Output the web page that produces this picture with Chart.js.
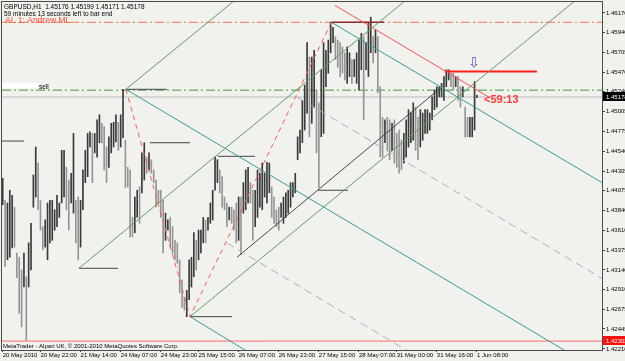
<!DOCTYPE html>
<html>
<head>
<meta charset="utf-8">
<script src="https://cdn.jsdelivr.net/npm/chart.js@4.4.0/dist/chart.umd.min.js"></script>
<style>
  html, body { margin: 0; padding: 0; background: #f1f2ee; }
  #wrap { width: 625px; height: 361px; }
</style>
</head>
<body>
<div id="wrap"><canvas id="gbpusd_chart" width="625" height="361"></canvas></div>
<script>
// GBPUSD H1 bars, 20 May 2010 -> 1 Jun 2010 (high / low per bar)
const barHigh = [
  1.4422, 1.4396, 1.4393, 1.4408, 1.4402, 1.4388, 1.4334, 1.4329, 1.4314, 1.4334,
  1.4306, 1.4346, 1.4369, 1.4426, 1.4459, 1.4440, 1.4396, 1.4365, 1.4373, 1.4393,
  1.4396, 1.4396, 1.4385, 1.4402, 1.4393, 1.4455, 1.4455, 1.4435, 1.4420, 1.4428,
  1.4475, 1.4396, 1.4400, 1.4396, 1.4432, 1.4455, 1.4475, 1.4477, 1.4475, 1.4475,
  1.4491, 1.4497, 1.4487, 1.4483, 1.4459, 1.4471, 1.4487, 1.4488, 1.4497, 1.4488,
  1.4497, 1.4527, 1.4467, 1.4435, 1.4432, 1.4376, 1.4400, 1.4408, 1.4412, 1.4452,
  1.4464, 1.4447, 1.4452, 1.4444, 1.4432, 1.4420, 1.4408, 1.4408, 1.4396, 1.4381,
  1.4373, 1.4376, 1.4365, 1.4349, 1.4346, 1.4326, 1.4302, 1.4282, 1.4290, 1.4326,
  1.4329, 1.4358, 1.4349, 1.4361, 1.4361, 1.4376, 1.4373, 1.4376, 1.4393, 1.4408,
  1.4447, 1.4444, 1.4432, 1.4424, 1.4400, 1.4393, 1.4388, 1.4388, 1.4385, 1.4393,
  1.4400, 1.4400, 1.4417, 1.4432, 1.4435, 1.4417, 1.4408, 1.4408, 1.4432, 1.4428,
  1.4440, 1.4428, 1.4441, 1.4440, 1.4412, 1.4400, 1.4385, 1.4388, 1.4393, 1.4400,
  1.4405, 1.4408, 1.4417, 1.4417, 1.4428, 1.4471, 1.4479, 1.4514, 1.4532, 1.4582,
  1.4565, 1.4565, 1.4573, 1.4526, 1.4511, 1.4550, 1.4582, 1.4573, 1.4585, 1.4606,
  1.4600, 1.4589, 1.4585, 1.4582, 1.4577, 1.4570, 1.4577, 1.4570, 1.4562, 1.4562,
  1.4570, 1.4585, 1.4593, 1.4589, 1.4582, 1.4605, 1.4612, 1.4589, 1.4597, 1.4589,
  1.4530, 1.4494, 1.4491, 1.4494, 1.4491, 1.4487, 1.4491, 1.4475, 1.4479, 1.4467,
  1.4475, 1.4491, 1.4503, 1.4499, 1.4511, 1.4506, 1.4494, 1.4503, 1.4499, 1.4503,
  1.4503, 1.4499, 1.4518, 1.4526, 1.4530, 1.4530, 1.4534, 1.4542, 1.4550, 1.4550,
  1.4546, 1.4546, 1.4542, 1.4542, 1.4530, 1.4530, 1.4506, 1.4494, 1.4494, 1.4494,
  1.4536, 1.4520
];
const barLow = [
  1.4391, 1.4318, 1.4326, 1.4329, 1.4340, 1.4341, 1.4305, 1.4263, 1.4247, 1.4294,
  1.4231, 1.4294, 1.4314, 1.4388, 1.4400, 1.4385, 1.4361, 1.4338, 1.4341, 1.4326,
  1.4346, 1.4349, 1.4361, 1.4365, 1.4376, 1.4393, 1.4400, 1.4385, 1.4361, 1.4393,
  1.4381, 1.4346, 1.4326, 1.4341, 1.4385, 1.4417, 1.4424, 1.4459, 1.4417, 1.4452,
  1.4447, 1.4464, 1.4464, 1.4432, 1.4417, 1.4435, 1.4452, 1.4459, 1.4465, 1.4455,
  1.4459, 1.4470, 1.4411, 1.4412, 1.4353, 1.4353, 1.4358, 1.4376, 1.4369, 1.4405,
  1.4420, 1.4428, 1.4432, 1.4428, 1.4417, 1.4388, 1.4393, 1.4376, 1.4334, 1.4349,
  1.4361, 1.4341, 1.4334, 1.4326, 1.4322, 1.4287, 1.4270, 1.4267, 1.4259, 1.4279,
  1.4294, 1.4306, 1.4314, 1.4326, 1.4334, 1.4346, 1.4346, 1.4361, 1.4369, 1.4373,
  1.4408, 1.4417, 1.4405, 1.4388, 1.4385, 1.4365, 1.4373, 1.4369, 1.4361, 1.4346,
  1.4349, 1.4332, 1.4381, 1.4385, 1.4393, 1.4393, 1.4349, 1.4365, 1.4376, 1.4388,
  1.4385, 1.4400, 1.4393, 1.4405, 1.4376, 1.4369, 1.4365, 1.4361, 1.4376, 1.4369,
  1.4376, 1.4381, 1.4388, 1.4400, 1.4405, 1.4444, 1.4452, 1.4464, 1.4479, 1.4499,
  1.4471, 1.4487, 1.4506, 1.4452, 1.4411, 1.4471, 1.4475, 1.4530, 1.4546, 1.4570,
  1.4582, 1.4562, 1.4553, 1.4542, 1.4546, 1.4538, 1.4534, 1.4542, 1.4534, 1.4542,
  1.4534, 1.4526, 1.4550, 1.4491, 1.4550, 1.4542, 1.4570, 1.4558, 1.4570, 1.4523,
  1.4447, 1.4447, 1.4464, 1.4455, 1.4444, 1.4455, 1.4440, 1.4435, 1.4428, 1.4432,
  1.4440, 1.4447, 1.4459, 1.4464, 1.4467, 1.4455, 1.4444, 1.4459, 1.4467, 1.4475,
  1.4475, 1.4479, 1.4491, 1.4503, 1.4506, 1.4518, 1.4518, 1.4514, 1.4530, 1.4538,
  1.4530, 1.4526, 1.4530, 1.4514, 1.4506, 1.4518, 1.4471, 1.4471, 1.4471, 1.4471,
  1.4479, 1.4517
];

const yTickValues = [1.46170, 1.45940, 1.45705, 1.45470, 1.45240, 1.45005, 1.44775, 1.44540, 1.44305,
  1.44075, 1.43840, 1.43610, 1.43375, 1.43140, 1.42910, 1.42675, 1.42445, 1.42210];
const xTickBars = [0, 16, 33, 50, 67, 83, 100, 117, 134, 151, 167, 184, 201];
const xTickLabels = ["20 May 2010", "20 May 22:00", "21 May 14:00", "24 May 07:00", "24 May 23:00",
  "25 May 15:00", "26 May 07:00", "26 May 23:00", "27 May 15:00", "28 May 07:00", "31 May 00:00",
  "31 May 16:00", "1 Jun 08:00"];

// last quote: open, high, low, close
const lastQuote = [1.45176, 1.45199, 1.45171, 1.45178];

// horizontal levels
const levelAndrew = 1.4606;
const levelSell = 1.4526;
const levelRed = 1.42302;

// pitchfork pivots [bar, price]
const pivotP0 = [32.3, 1.4316];
const pivotA = [52.2, 1.4527];
const pivotB = [79.4, 1.4259];
const pivotC = [139.3, 1.4606];

// where the fork lines leave the chart [bar, price]
const tealMedianEnd = [254.0, 1.4193];
const tealUpperEnd = [254.0, 1.4417];
const tealLowerEnd = [109.0, 1.4209];
const grayHalfUpper = [[124.6, 1.4518], [254.0, 1.4304]];
const grayHalfLower = [[94.9, 1.4346], [176.8, 1.4210]];
const greenMedianEnd = [172.6, 1.4636];
const greenUpperEnd = [100.6, 1.4637];
const greenLowerEnd = [244.6, 1.4636];
const redChannel = [[140.8, 1.4626], [206.5, 1.4517]];
const blackTrend = [[99.3, 1.4329], [186.2, 1.4530]];

// short horizontal marks [fromBar, toBar, price]
const pivotMarks = [
  [-0.3, 9.0, 1.4466], [32.3, 48.9, 1.4316], [52.2, 69.6, 1.4527], [62.4, 79.4, 1.4464],
  [79.4, 97.2, 1.4259], [91.2, 106.9, 1.4448], [133.6, 146.3, 1.4408]
];
const topMark = [139.3, 161.6, 1.4606];
const sellStop = [187.4, 226.4, 1.4548];

// text anchors [bar, price]
const arrowAt = [199.7, 1.4557];
const timerAt = [204.0, 1.4514];
const sellAt = [15.4, 1.4526];

const xMin = -0.3, xMax = 254.0;
const yMin = 1.42197, yMax = 1.46299;

const barColors = barHigh.map((h, i) => {
  if (i === 0) return "#3a3a3a";
  const mid = (h + barLow[i]) / 2;
  const prev = (barHigh[i - 1] + barLow[i - 1]) / 2;
  return mid >= prev ? "#3a3a3a" : "#959595";
});

function line(points, color, width, dash, order) {
  return {
    type: "line",
    data: points.map((p) => ({ x: p[0], y: p[1] })),
    borderColor: color,
    borderWidth: width,
    borderDash: dash || [],
    pointRadius: 0,
    tension: 0,
    fill: false,
    order: order,
  };
}

const datasets = [
  {
    type: "bar",
    data: barHigh.map((h, i) => ({ x: i, y: [barLow[i], h] })),
    backgroundColor: barColors,
    borderWidth: 0,
    barThickness: 1,
    order: 2,
  },
  line([[xMin, levelAndrew], [xMax, levelAndrew]], "#ff6f4f", 1, [9, 3, 2, 3], 3),
  line([[xMin, levelSell], [xMax, levelSell]], "#3c9c3c", 1, [9, 3, 2, 3], 3),
  line([[xMin, lastQuote[3]], [xMax, lastQuote[3]]], "#d6d6d6", 2, [], 3),
  line([[xMin, levelRed], [xMax, levelRed]], "#ff6a6a", 1, [], 3),
  line([pivotA, tealMedianEnd], "#3b9999", 1, [], 1),
  line([pivotC, tealUpperEnd], "#3b9999", 1, [], 1),
  line([pivotB, tealLowerEnd], "#3b9999", 1, [], 1),
  line(grayHalfUpper, "#b4aabb", 1, [8, 5], 1),
  line(grayHalfLower, "#b4aabb", 1, [8, 5], 1),
  line([pivotA, pivotB, pivotC], "#ff5a5a", 1, [5, 4], 1),
  line([pivotP0, greenMedianEnd], "#609e60", 1, [], 1),
  line([pivotA, greenUpperEnd], "#609e60", 1, [], 1),
  line([pivotB, greenLowerEnd], "#609e60", 1, [], 1),
  line(redChannel, "#ff5050", 1, [], 1),
  line(blackTrend, "#4e4646", 1, [], 1),
  line([[topMark[0], topMark[2]], [topMark[1], topMark[2]]], "#8e2a2a", 1.5, [], 1),
  line([[sellStop[0], sellStop[2]], [sellStop[1], sellStop[2]]], "#ff1e1e", 2, [], 1),
];
pivotMarks.forEach((m) => {
  datasets.push(line([[m[0], m[2]], [m[1], m[2]]], "#454545", 1, [], 1));
});

const FONT = '"Liberation Sans", Arial, sans-serif';

const overlay = {
  id: "overlay",
  beforeDraw(chart) {
    const c = chart.ctx;
    c.save();
    c.fillStyle = "#f1f2ee";
    c.fillRect(0, 0, chart.width, chart.height);
    c.restore();
  },
  afterDraw(chart) {
    const c = chart.ctx;
    const a = chart.chartArea;
    const sx = chart.scales.x;
    const sy = chart.scales.y;
    c.save();

    // frame
    c.strokeStyle = "#4a4a4a";
    c.lineWidth = 1;
    c.strokeRect(a.left - 0.5, a.top - 0.5, a.right - a.left + 1, a.bottom - a.top + 1);

    // header
    c.fillStyle = "#000";
    c.font = "6.5px " + FONT;
    c.textBaseline = "alphabetic";
    c.textAlign = "left";
    c.fillText("GBPUSD,H1  " + lastQuote.map((v) => v.toFixed(5)).join(" "), 4, 9);
    c.fillText("59 minutes 13 seconds left to bar end", 4, 15.5);
    c.font = "6px " + FONT;
    c.fillText("MetaTrader - Alpari UK, \u00a9 2001-2010 MetaQuotes Software Corp.", 3, 348);

    c.fillStyle = "#ff4a2e";
    c.font = "8.5px " + FONT;
    c.fillText("AL 1: Andrew ML", 5, 22.5);

    // sell label
    const sellY = sy.getPixelForValue(sellAt[1]);
    const sellX = sx.getPixelForValue(sellAt[0]);
    c.fillStyle = "#ffffff";
    c.fillRect(a.left, sellY - 7, sellX - a.left - 1, 5);
    c.fillStyle = "#000";
    c.font = "6.5px " + FONT;
    c.fillText("sell", sellX, sellY - 1);

    // arrow
    c.fillStyle = "#5454b8";
    c.font = '14px "DejaVu Sans"';
    c.textAlign = "center";
    c.textBaseline = "middle";
    c.fillText("\u21e9", sx.getPixelForValue(arrowAt[0]), sy.getPixelForValue(arrowAt[1]));

    // bar timer
    c.fillStyle = "#ff3a3a";
    c.font = "bold 11px " + FONT;
    c.textAlign = "left";
    c.fillText("<59:13", sx.getPixelForValue(timerAt[0]), sy.getPixelForValue(timerAt[1]));

    // price boxes on the axis
    c.font = "6px " + FONT;
    const boxes = [[lastQuote[3], "#000000"], [levelRed, "#ff1010"]];
    boxes.forEach((b) => {
      const py = Math.round(sy.getPixelForValue(b[0]));
      c.fillStyle = b[1];
      c.fillRect(a.right + 1, py - 5, chart.width - a.right, 9);
      c.fillStyle = "#ffffff";
      c.textBaseline = "middle";
      c.fillText(b[0].toFixed(5), a.right + 4, py);
    });
    c.restore();
  },
};

const ctx = document.getElementById("gbpusd_chart");
const gbpChart = new Chart(ctx, {
  type: "bar",
  data: { datasets: datasets },
  options: {
    responsive: false,
    animation: false,
    devicePixelRatio: 1,
    layout: { padding: { left: 2, top: 2, right: 0, bottom: 0 } },
    plugins: { legend: { display: false }, tooltip: { enabled: false } },
    scales: {
      x: {
        type: "linear",
        min: xMin,
        max: xMax,
        offset: false,
        afterBuildTicks: (s) => { s.ticks = xTickBars.map((v) => ({ value: v })); },
        afterFit: (s) => {
          s.height = 11;
          s.paddingLeft = 0; s.paddingRight = 0;
        },
        grid: { offset: false, drawOnChartArea: false, drawTicks: true, tickLength: 2, color: "#404040" },
        border: { display: true, color: "#4a4a4a" },
        ticks: {
          align: "start",
          autoSkip: false,
          maxRotation: 0,
          padding: 0,
          color: "#000",
          font: { family: FONT, size: 6 },
          callback: (v, i) => xTickLabels[i],
        },
      },
      y: {
        type: "linear",
        position: "right",
        min: yMin,
        max: yMax,
        afterBuildTicks: (s) => { s.ticks = yTickValues.map((v) => ({ value: v })); },
        afterFit: (s) => {
          s.width = 23;
          s.paddingTop = 0; s.paddingBottom = 0;
        },
        grid: { drawOnChartArea: false, drawTicks: true, tickLength: 3, color: "#404040" },
        border: { display: true, color: "#4a4a4a" },
        ticks: {
          autoSkip: false,
          padding: 1,
          color: "#000",
          font: { family: FONT, size: 6 },
          callback: (v) => v.toFixed(5),
        },
      },
    },
  },
  plugins: [overlay],
});
</script>
</body>
</html>
